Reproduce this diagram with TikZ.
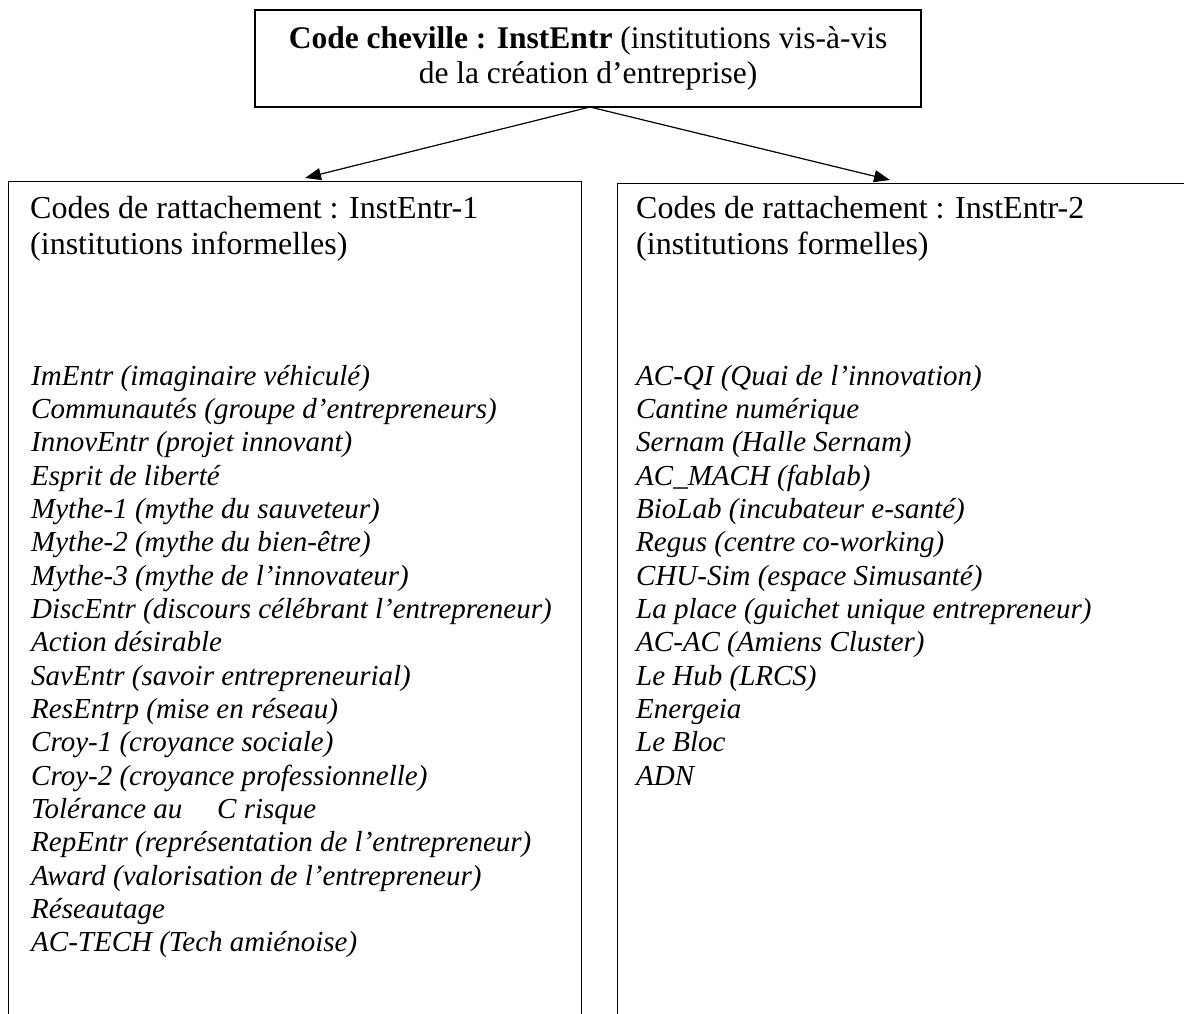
\documentclass[tikz,border=0pt]{standalone}
\usepackage{fontspec}
\setmainfont{Liberation Serif}
\usetikzlibrary{arrows.meta}
\begin{document}
\begin{tikzpicture}[x=1pt,y=-1pt,
  box/.style={draw,line width=1.4pt,rectangle,inner sep=0pt},
  conn/.style={line width=1.2pt,-{Triangle[length=16pt,width=12pt]}},
  hdr/.style={anchor=base west,inner sep=0pt,font=\fontsize{32}{36}\selectfont},
  itm/.style={anchor=base west,inner sep=0pt,font=\fontsize{29}{33}\selectfont\itshape}]
\useasboundingbox (0,0) rectangle (1184,1013);
\begin{scope}
\clip (0,0) rectangle (1184,1013);
\node[box,minimum width=666pt,minimum height=97pt,align=center,
  font=\fontsize{31.5}{35.5}\selectfont] (top) at (588,58.5)
  {\textbf{Code cheville : InstEntr} (institutions vis-à-vis\\de la création d’entreprise)};
\node[box,anchor=north west,minimum width=573pt,minimum height=900pt] (lbox) at (8,181) {};
\node[box,anchor=north west,minimum width=700pt,minimum height=900pt] (rbox) at (617,183) {};
\end{scope}
\coordinate (lt) at (305,178);
\coordinate (rt) at (890,180);
\coordinate (src) at (590,107);
\draw[conn] (src) -- (lt);
\draw[conn] (src) -- (rt);
\node[hdr] (lh1) at (30,218) {Codes de rattachement : InstEntr-1};
\node[hdr] (lh2) at (30,254) {(institutions informelles)};
\node[hdr] (rh1) at (636,218) {Codes de rattachement : InstEntr-2};
\node[hdr] (rh2) at (636,254) {(institutions formelles)};
\foreach \t [count=\i] in {
  ImEntr (imaginaire véhiculé),
  Communautés (groupe d’entrepreneurs),
  InnovEntr (projet innovant),
  Esprit de liberté,
  Mythe-1 (mythe du sauveteur),
  Mythe-2 (mythe du bien-être),
  Mythe-3 (mythe de l’innovateur),
  DiscEntr (discours célébrant l’entrepreneur),
  Action désirable,
  SavEntr (savoir entrepreneurial),
  ResEntrp (mise en réseau),
  Croy-1 (croyance sociale),
  Croy-2 (croyance professionnelle),
  Tolérance au\hspace{1.2em}C risque,
  RepEntr (représentation de l’entrepreneur),
  Award (valorisation de l’entrepreneur),
  Réseautage,
  AC-TECH (Tech amiénoise)}
  \node[itm] (L\i) at (31,{385+33.35*(\i-1)}) {\t};
\foreach \t [count=\i] in {
  AC-QI (Quai de l’innovation),
  Cantine numérique,
  Sernam (Halle Sernam),
  AC\_MACH (fablab),
  BioLab (incubateur e-santé),
  Regus (centre co-working),
  CHU-Sim (espace Simusanté),
  La place (guichet unique entrepreneur),
  AC-AC (Amiens Cluster),
  Le Hub (LRCS),
  Energeia,
  Le Bloc,
  ADN}
  \node[itm] (R\i) at (636,{385+33.35*(\i-1)}) {\t};
\end{tikzpicture}
\end{document}
